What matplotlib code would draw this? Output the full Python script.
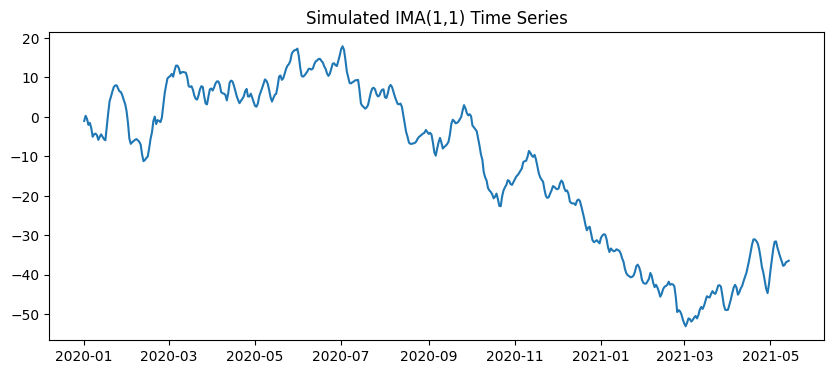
import numpy as np
import pandas as pd
import matplotlib
matplotlib.use('Agg')
import matplotlib.pyplot as plt

# daily values, 2020-01-01 onwards
start_date = '2020-01-01'

vals_jan_feb = [
    -1.0, 0.3, -0.5, -2.0, -1.5, -2.8, -5.0, -4.4, -4.2, -4.6,
    -5.8, -5.0, -4.4, -5.0, -5.6, -5.9, -2.5, 1.0, 4.0, 5.2,
    6.5, 7.6, 8.0, 8.0, 7.2, 6.5, 6.3, 5.5, 4.3, 3.3,
    1.5, -1.5, -5.5, -6.8, -6.4, -6.1, -5.8, -5.6, -5.9, -6.3,
    -7.0, -9.5, -11.2, -10.9, -10.4, -10.0, -8.0, -5.5, -3.9, -1.0,
    0.1, -1.8, -0.8, -1.0, -1.3, -0.2, 2.8, 6.0, 8.0, 9.8,
]
vals_mar_apr = [
    10.1, 10.4, 10.9, 10.2, 11.8, 13.0, 13.0, 12.4, 11.0, 11.3,
    11.4, 11.3, 11.2, 10.0, 7.8, 7.6, 7.8, 6.9, 5.4, 4.6,
    4.4, 5.5, 7.0, 7.8, 7.6, 5.2, 3.4, 3.2, 5.2, 7.0,
    7.2, 6.7, 7.5, 8.5, 9.0, 9.0, 8.2, 6.3, 6.0, 5.9,
    5.6, 4.2, 6.0, 8.7, 9.2, 9.0, 8.0, 6.6, 5.3, 4.3,
    3.5, 4.1, 4.6, 5.2, 6.5, 7.1, 5.2, 5.2, 5.9, 4.9,
]
vals_may_jun = [
    3.8, 2.8, 2.6, 3.4, 5.3, 6.3, 7.3, 8.4, 9.5, 9.2,
    8.4, 6.8, 5.0, 3.9, 4.8, 5.6, 5.9, 7.8, 10.2, 10.5,
    9.4, 9.8, 11.0, 12.2, 13.0, 13.4, 14.2, 16.0, 16.6, 16.9,
    17.0, 17.3, 15.4, 12.5, 10.4, 10.2, 10.5, 11.0, 11.5, 12.2,
    12.2, 12.0, 12.3, 13.4, 14.1, 14.3, 14.7, 14.7, 14.2, 13.8,
    12.8, 12.2, 11.0, 10.4, 11.0, 12.2, 13.5, 13.6, 13.1, 12.9,
]
vals_jul_aug = [
    14.2, 15.6, 17.2, 17.9, 17.0, 14.5, 11.5, 10.0, 8.6, 8.5,
    8.8, 9.0, 9.3, 9.3, 9.4, 6.7, 3.4, 2.8, 2.5, 2.1,
    2.4, 3.0, 4.6, 6.2, 7.2, 7.4, 7.0, 5.8, 5.2, 5.4,
    6.3, 6.9, 7.0, 5.0, 4.8, 5.9, 7.6, 8.1, 7.6, 6.4,
    5.2, 4.2, 3.3, 3.2, 3.4, 2.6, 0.5, -1.5, -3.8, -5.0,
    -6.5, -6.8, -6.8, -6.7, -6.6, -6.3, -5.6, -5.1, -4.8, -4.5,
]
vals_sep_oct = [
    -4.2, -4.0, -3.3, -3.8, -4.3, -4.0, -4.5, -6.5, -9.0, -9.8,
    -8.0, -6.4, -5.3, -6.5, -8.0, -7.6, -7.3, -6.9, -6.3, -4.5,
    -1.8, -0.7, -1.0, -1.6, -1.5, -1.2, -0.6, 0.0, 1.6, 3.0,
    2.2, 1.0, 0.4, 0.7, 0.2, -2.2, -2.6, -3.1, -3.6, -5.4,
    -7.3, -9.5, -10.8, -14.0, -15.3, -16.1, -18.0, -18.6, -19.0, -19.6,
    -20.6, -20.2, -19.4, -20.8, -22.5, -22.6, -20.1, -18.6, -17.8, -17.2,
]
vals_nov_dec = [
    -16.0, -16.2, -17.0, -17.2, -16.5, -15.8, -15.1, -14.7, -14.2, -13.6,
    -13.0, -11.4, -11.2, -11.1, -10.1, -8.6, -9.1, -9.8, -10.1, -9.6,
    -10.8, -12.6, -14.3, -15.3, -15.9, -16.4, -18.4, -20.0, -20.5, -20.3,
    -19.4, -18.6, -17.5, -17.7, -18.1, -18.3, -18.1, -16.8, -16.1, -16.6,
    -18.0, -18.8, -18.6, -19.5, -21.4, -21.8, -21.9, -21.9, -22.3, -21.2,
    -20.9, -21.2, -22.5, -24.0, -25.5, -27.3, -28.7, -28.0, -27.8, -29.5,
]
vals_2021_a = [
    -31.2, -31.7, -31.5, -31.2, -31.6, -32.0, -30.6, -30.0, -29.7, -29.8,
    -31.0, -33.0, -34.2, -33.3, -33.7, -34.0, -33.9, -33.5, -33.7, -33.9,
    -34.6, -35.8, -36.7, -38.5, -39.6, -40.1, -40.3, -40.6, -40.5, -40.2,
    -39.3, -37.8, -37.4, -38.0, -39.2, -41.2, -42.0, -42.2, -42.2, -41.6,
    -41.0, -39.5, -40.3, -42.0, -43.1, -42.5, -43.2, -44.2, -45.5, -44.8,
    -43.6, -43.0, -42.8, -42.5, -41.7, -42.5, -42.3, -42.4, -42.9, -45.6,
]
vals_2021_b = [
    -49.4, -48.9, -49.2, -50.0, -51.3, -52.3, -53.0, -52.1, -51.0, -51.2,
    -51.8, -51.4, -50.8, -50.4, -51.0, -50.2, -48.8, -48.1, -48.6, -47.8,
    -46.6, -45.4, -45.6, -45.7, -44.8, -44.1, -44.6, -44.8, -43.9, -42.7,
    -42.6, -43.0, -45.2, -47.6, -48.8, -48.9, -48.8, -47.5, -46.2, -44.6,
    -43.2, -42.5, -43.2, -45.0, -44.4, -43.4, -42.8, -41.6, -40.5, -39.5,
    -37.8, -36.2, -34.2, -32.3, -31.0, -31.0, -31.4, -32.0, -33.4, -35.5,
]
vals_2021_c = [
    -38.0, -39.4, -41.5, -43.5, -44.6, -42.3, -39.0, -36.3, -33.5, -31.6,
    -31.5, -33.1, -34.3, -35.5, -36.5, -37.7, -37.5, -36.8, -36.6, -36.4,
]

values = (vals_jan_feb + vals_mar_apr + vals_may_jun + vals_jul_aug
          + vals_sep_oct + vals_nov_dec + vals_2021_a + vals_2021_b + vals_2021_c)
dates = pd.date_range(start_date, periods=len(values), freq='D')
series = pd.Series(values, index=dates)

plt.figure(figsize=(10, 4))
plt.plot(series.index, series.values)
plt.title('Simulated IMA(1,1) Time Series')
plt.savefig('out.png', dpi=100, bbox_inches='tight')
